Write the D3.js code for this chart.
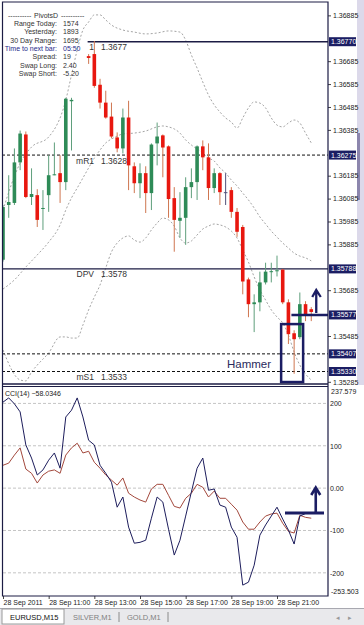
<!DOCTYPE html>
<html>
<head>
<meta charset="utf-8">
<script src="https://cdn.jsdelivr.net/npm/d3@7"></script>
<style>
body { margin: 0; background: #fff; }
text { font-family: "Liberation Sans", Arial, sans-serif; }
</style>
</head>
<body>
<div class="chart"></div>
<script>
const width = 364
const height = 625

// EURUSD M15 candles, bar index 0..54 (13 and 14 are not drawn in the picture)
const opens = [1.35818, 1.36057, 1.36066, 1.36243, 1.36365, 1.36092, 1.36100, 1.36040, 1.36100, 1.36189, 1.36196, 1.36157, 1.36510, null, null,
    1.36707, 1.36716, 1.36582, 1.36504, 1.36443, 1.36352, 1.36304, 1.36439, 1.36226, 1.36152, 1.36196, 1.36109, 1.36326, 1.36361, 1.36313,
    1.36087, 1.35988, 1.36001, 1.36135, 1.36157, 1.36313, 1.36265, 1.36131, 1.36196, 1.36113, 1.36122, 1.36027, 1.35961, 1.35732, 1.35624,
    1.35632, 1.35719, 1.35766, 1.35768, 1.35775, 1.35632, 1.35497, 1.35480, 1.35624, 1.35602]
const highs = [1.36057, 1.36187, 1.36304, 1.36382, 1.36378, 1.36217, 1.36126, 1.36122, 1.36274, 1.36330, 1.36274, 1.36525, 1.36525, null, null,
    1.36716, 1.36773, 1.36608, 1.36556, 1.36504, 1.36374, 1.36478, 1.36512, 1.36243, 1.36239, 1.36226, 1.36326, 1.36417, 1.36365, 1.36317,
    1.36135, 1.36113, 1.36178, 1.36217, 1.36317, 1.36339, 1.36326, 1.36217, 1.36200, 1.36196, 1.36135, 1.36044, 1.35970, 1.35740, 1.35667,
    1.35766, 1.35805, 1.35805, 1.35836, 1.35778, 1.35645, 1.35510, 1.35675, 1.35637, 1.35611]
const lows = [1.35810, 1.36001, 1.36057, 1.36209, 1.36087, 1.36057, 1.35961, 1.35948, 1.36027, 1.36187, 1.36066, 1.36122, 1.36295, null, null,
    1.36673, 1.36569, 1.36478, 1.36434, 1.36348, 1.36287, 1.36282, 1.36122, 1.36109, 1.36087, 1.36022, 1.36035, 1.36230, 1.36178, 1.36001,
    1.35853, 1.35914, 1.35883, 1.36087, 1.36079, 1.36209, 1.36079, 1.36109, 1.36057, 1.36057, 1.36001, 1.35918, 1.35667, 1.35567, 1.35502,
    1.35593, 1.35710, 1.35719, 1.35745, 1.35624, 1.35450, 1.35320, 1.35471, 1.35550, 1.35550]
const closes = [1.36048, 1.36070, 1.36243, 1.36369, 1.36092, 1.36105, 1.35992, 1.36044, 1.36187, 1.36191, 1.36157, 1.36521, 1.36516, null, null,
    1.36699, 1.36577, 1.36504, 1.36439, 1.36356, 1.36304, 1.36439, 1.36230, 1.36152, 1.36196, 1.36109, 1.36321, 1.36356, 1.36308, 1.36083,
    1.35992, 1.36001, 1.36135, 1.36157, 1.36313, 1.36265, 1.36131, 1.36196, 1.36113, 1.36113, 1.36027, 1.35940, 1.35723, 1.35624, 1.35632,
    1.35719, 1.35766, 1.35768, 1.35772, 1.35632, 1.35493, 1.35471, 1.35624, 1.35580, 1.35590]

// bands [bar index, price]
const upperBand = [[0, 1.36035], [3, 1.36240], [5, 1.36310], [8, 1.36354], [11, 1.36515], [12, 1.36625], [13, 1.36734], [14, 1.36821],
    [15, 1.36856], [16, 1.36887], [17, 1.36887], [18, 1.36865], [19, 1.36843], [21, 1.36821], [23, 1.36812], [25, 1.36804], [27, 1.36808],
    [29, 1.36817], [31, 1.36812], [32, 1.36777], [33, 1.36712], [34, 1.36655], [35, 1.36594], [36, 1.36537], [37, 1.36494], [38, 1.36463],
    [39, 1.36437], [40, 1.36419], [41, 1.36393], [42, 1.36437], [43, 1.36481], [44, 1.36507], [45, 1.36502], [46, 1.36481], [47, 1.36437],
    [48, 1.36406], [49, 1.36398], [50, 1.36415], [51, 1.36428], [52, 1.36415], [53, 1.36371], [54, 1.36328]]
const middleBand = [[0, 1.35690], [2, 1.35730], [4, 1.35786], [6, 1.35839], [8, 1.35895], [10, 1.35970], [11, 1.36035], [12, 1.36088],
    [13, 1.36131], [14, 1.36175], [15, 1.36219], [16, 1.36262], [17, 1.36297], [18, 1.36328], [19, 1.36345], [20, 1.36358], [21, 1.36367],
    [23, 1.36371], [25, 1.36380], [27, 1.36398], [28, 1.36402], [29, 1.36398], [30, 1.36389], [31, 1.36371], [32, 1.36341], [33, 1.36319],
    [35, 1.36284], [36, 1.36262], [37, 1.36249], [38, 1.36219], [39, 1.36197], [40, 1.36166], [41, 1.36140], [42, 1.36109], [43, 1.36079],
    [44, 1.36044], [45, 1.36005], [46, 1.35974], [47, 1.35943], [48, 1.35917], [49, 1.35891], [50, 1.35869], [51, 1.35847], [52, 1.35834],
    [53, 1.35826], [54, 1.35813]]
const lowerBand = [[0, 1.35424], [3, 1.35293], [4, 1.35289], [5, 1.35328], [6, 1.35358], [8, 1.35411], [10, 1.35481], [11, 1.35481],
    [12, 1.35476], [13, 1.35476], [14, 1.35533], [15, 1.35599], [16, 1.35655], [17, 1.35708], [18, 1.35782], [19, 1.35852], [20, 1.35891],
    [21, 1.35913], [22, 1.35922], [23, 1.35904], [24, 1.35895], [25, 1.35913], [26, 1.35948], [27, 1.35978], [28, 1.36000], [29, 1.35992],
    [30, 1.35965], [31, 1.35913], [32, 1.35891], [33, 1.35900], [34, 1.35926], [35, 1.35952], [36, 1.35965], [37, 1.35974], [38, 1.35970],
    [39, 1.35961], [40, 1.35943], [41, 1.35913], [42, 1.35861], [43, 1.35808], [44, 1.35743], [45, 1.35686], [46, 1.35642], [47, 1.35599],
    [48, 1.35568], [49, 1.35542], [50, 1.35489], [51, 1.35415], [52, 1.35358], [53, 1.35319], [54, 1.35293]]

// CCI(14) and its signal
const cciMain = [203, 213, 199, 180, 102, 71, 31, 43, 66, 83, 47, 168, 184, 213, 168, 113, 102, 54, 35, 14, -45, -21, -92, -130, -128,
    -123, -71, -21, -33, -97, -158, -123, -66, -9, 47, 71, -5, -2, -40, -45, -92, -116, -229, -222, -182, -111, -87, -66, -45, -73,
    -99, -132, -66, -60, -58.0346]
const cciSignal = [54, 59, 78, 95, 45, 35, 12, 31, 40, 43, 35, 78, 95, 106, 83, 87, 61, 47, 31, 19, 7, 24, -12, -21, -28, -33, -2, 9,
    9, -17, -43, -47, -24, -12, 9, 2, -21, -7, -24, -24, -38, -52, -80, -97, -97, -80, -66, -61, -59, -83, -102, -106, -64, -69, -71]

// pivot levels
const levelNames = ["1", "mR1", "DPV", "", "mS1"]
const levelPrices = [1.36770, 1.36275, 1.35778, 1.35407, 1.35330]
const levelTexts = ["1.3677", "1.3628", "1.3578", "", "1.3533"]
const levelStart = [15, 0, 0, 0, 0]
const levelSolid = [true, false, true, false, false]

// price labels left visible by the tags
const priceTicks = [1.36885, 1.36685, 1.36585, 1.36485, 1.36385, 1.36185, 1.36085, 1.35985, 1.35885,
    1.35685, 1.35485, 1.35285]
const tagPrices = [1.36770, 1.36275, 1.35778, 1.35577, 1.35407, 1.35330]
const tagTexts = ["1.36770", "1.36275", "1.35788", "1.35577", "1.35407", "1.35330"]

const cciTicks = [200, 100, 0, -100, -200]
const cciRange = [-253.503, 237.579]

const timeIdx = [0, 8, 16, 24, 32, 40, 48]
const timeLabels = ["28 Sep 2011", "28 Sep 11:00", "28 Sep 13:00", "28 Sep 15:00", "28 Sep 17:00", "28 Sep 19:00", "28 Sep 21:00"]

const infoLabels = ["Range Today:", "Yesterday:", "30 Day Range:", "Time to next bar:", "Spread:", "Swap Long:", "Swap Short:"]
const infoValues = ["1574", "1893", "1695", "05:50", "19", "2.40", "-5.20"]

const tabNames = ["EURUSD,M15", "SILVER,M1", "GOLD,M1"]

const navy = "#1b1d63"
const frame = "#1c1c44"
const bull = "#2e8b57"
const bear = "#e8170f"

const left = 3, right = 328
const mainTop = 2, mainBottom = 384
const cciTop = 387, cciBottom = 596

const x = d3.scaleLinear().domain([0, 48]).range([3, 277])
const y = d3.scaleLinear().domain([1.35330, 1.36770]).range([371.5, 41.7])
const yc = d3.scaleLinear().domain(cciRange).range([595.5, 387.5])

const svg = d3.select(".chart")
    .append("svg")
    .attr("width", width)
    .attr("height", height)

const defs = svg.append("defs")
defs.append("clipPath").attr("id", "clip-main")
    .append("rect").attr("x", left).attr("y", mainTop).attr("width", right - left).attr("height", mainBottom - mainTop)
defs.append("clipPath").attr("id", "clip-cci")
    .append("rect").attr("x", left).attr("y", cciTop).attr("width", right - left).attr("height", cciBottom - cciTop)

// right strip of the window
svg.append("rect").attr("x", 357).attr("y", 0).attr("width", 7).attr("height", mainBottom + 1).attr("fill", "#dcd9ea")
svg.append("rect").attr("x", 357).attr("y", 133).attr("width", 3).attr("height", 67).attr("fill", "#8c86ad")

const main = svg.append("g").attr("clip-path", "url(#clip-main)")

// bands
const bandLine = d3.line()
    .x(d => x(d[0]))
    .y(d => y(d[1]))
    .curve(d3.curveMonotoneX)

main.selectAll(".band")
    .data([upperBand, middleBand, lowerBand])
    .enter().append("path")
        .attr("d", bandLine)
        .attr("fill", "none")
        .attr("stroke", "#9a9a9a")
        .attr("stroke-width", 0.9)
        .attr("stroke-dasharray", "2,2")

// pivot lines
levelPrices.forEach((p, i) => {
    main.append("line")
        .attr("x1", x(levelStart[i]) - 1).attr("x2", right)
        .attr("y1", y(p)).attr("y2", y(p))
        .attr("stroke", levelSolid[i] ? frame : "#111")
        .attr("stroke-width", levelSolid[i] ? 1.4 : 1)
        .attr("stroke-dasharray", levelSolid[i] ? null : "3,2")
    main.append("text")
        .attr("x", 94).attr("y", y(p) + 8.5)
        .attr("text-anchor", "end")
        .attr("font-size", 8.5).attr("fill", "#333")
        .text(levelNames[i])
    main.append("text")
        .attr("x", 101).attr("y", y(p) + 8.5)
        .attr("font-size", 8.5).attr("fill", "#333")
        .text(levelTexts[i])
})

// candles
const bars = opens.map((o, i) => ({ i: i, o: o, h: highs[i], l: lows[i], c: closes[i] }))
    .filter(d => d.o !== null)

const candleColor = d => d.c > d.o ? bull : (d.c < d.o ? bear : "#50507a")
const wickColor = d => d.c > d.o ? "#5f9f7c" : (d.c < d.o ? "#cf7650" : "#50507a")

main.selectAll(".wick")
    .data(bars)
    .enter().append("line")
        .attr("x1", d => x(d.i)).attr("x2", d => x(d.i))
        .attr("y1", d => y(d.h)).attr("y2", d => y(d.l))
        .attr("stroke", wickColor)
        .attr("stroke-width", 1)

main.selectAll(".body")
    .data(bars)
    .enter().append("rect")
        .attr("x", d => x(d.i) - 1.8)
        .attr("width", 3.6)
        .attr("y", d => Math.min(y(d.o), y(d.c)))
        .attr("height", d => Math.max(1, Math.abs(y(d.o) - y(d.c))))
        .attr("fill", candleColor)

// hammer annotation
const hammerBar = 51
main.append("rect")
    .attr("x", x(hammerBar) - 13).attr("y", y(1.35537))
    .attr("width", 22).attr("height", y(1.35284) - y(1.35537))
    .attr("fill", "none").attr("stroke", navy).attr("stroke-width", 2.5)
main.append("text")
    .attr("x", 227).attr("y", 368)
    .attr("font-size", 11.5).attr("fill", "#2a2a5c")
    .text("Hammer")

// resistance mark with arrow
main.append("line")
    .attr("x1", x(50) + 3).attr("x2", right)
    .attr("y1", y(1.35577)).attr("y2", y(1.35577))
    .attr("stroke", navy).attr("stroke-width", 2.6)
main.append("path")
    .attr("d", `M${x(54) + 5},${y(1.35577) - 2}V290M${x(54) + 1},297L${x(54) + 5},290L${x(54) + 9.5},297`)
    .attr("fill", "none").attr("stroke", navy).attr("stroke-width", 2.3)

// info block
const info = svg.append("g").attr("font-size", 7)
info.append("text").attr("x", 8).attr("y", 17.5).attr("fill", "#333").text("----------")
info.append("text").attr("x", 34).attr("y", 17.5).attr("fill", "#333").text("PivotsD")
info.append("text").attr("x", 61).attr("y", 17.5).attr("fill", "#333").text("----------")
infoLabels.forEach((t, i) => {
    const c = i === 3 ? "#1e2a8a" : "#333"
    info.append("text").attr("x", 57).attr("y", 26 + i * 8.3).attr("text-anchor", "end").attr("fill", c).text(t)
    info.append("text").attr("x", 63).attr("y", 26 + i * 8.3).attr("fill", c).text(infoValues[i])
})

// CCI panel
const cci = svg.append("g")
cci.selectAll(".grid")
    .data(cciTicks)
    .enter().append("line")
        .attr("x1", left).attr("x2", right)
        .attr("y1", d => yc(d)).attr("y2", d => yc(d))
        .attr("stroke", "#c4c4c4").attr("stroke-dasharray", "3,2")

const cciLine = d3.line()
    .x((d, i) => x(i))
    .y(d => yc(d))

const cciPlot = cci.append("g").attr("clip-path", "url(#clip-cci)")
cciPlot.append("path").attr("d", cciLine(cciSignal))
    .attr("fill", "none").attr("stroke", "#a3483c").attr("stroke-width", 1)
cciPlot.append("path").attr("d", cciLine(cciMain))
    .attr("fill", "none").attr("stroke", "#1d1d5c").attr("stroke-width", 1)

cci.append("text").attr("x", 5).attr("y", 396).attr("font-size", 7).attr("fill", "#222")
    .text("CCI(14) " + d3.format(".4f")(cciMain[cciMain.length - 1]))

cci.append("line").attr("x1", 285).attr("x2", 324).attr("y1", 513).attr("y2", 513)
    .attr("stroke", navy).attr("stroke-width", 3)
cci.append("path")
    .attr("d", `M${x(54) + 4.5},513V488M${x(54)},495L${x(54) + 4.5},487.5L${x(54) + 9},495`)
    .attr("fill", "none").attr("stroke", navy).attr("stroke-width", 2.6)

// price axis
const axisR = svg.append("g")
    .attr("transform", `translate(${right}, 0)`)
    .call(d3.axisRight(y).tickValues(priceTicks).tickSize(3).tickPadding(2).tickFormat(d3.format(".5f")))
axisR.select(".domain").remove()
axisR.selectAll("text").attr("font-size", 7).attr("fill", "#222").style("font-family", "Liberation Sans, Arial")
axisR.selectAll("line").attr("stroke", "#444")

const tags = svg.append("g")
tagPrices.forEach((p, i) => {
    tags.append("rect").attr("x", 329).attr("y", y(p) - 4.5).attr("width", 27).attr("height", 9).attr("fill", navy)
    tags.append("text").attr("x", 331).attr("y", y(p) + 2.5).attr("font-size", 7).attr("fill", "#fff").text(tagTexts[i])
})

// CCI axis
const axisC = svg.append("g")
    .attr("transform", `translate(${right}, 0)`)
    .call(d3.axisRight(yc).tickValues(cciTicks).tickSize(0).tickPadding(2).tickFormat(d => d === 0 ? "0.00" : d))
axisC.select(".domain").remove()
axisC.selectAll("text").attr("font-size", 7).attr("fill", "#222").style("font-family", "Liberation Sans, Arial")
svg.append("text").attr("x", 331).attr("y", 394).attr("font-size", 7).attr("fill", "#222").text(cciRange[1])
svg.append("text").attr("x", 331).attr("y", 594).attr("font-size", 7).attr("fill", "#222").text(cciRange[0])

// time axis
const axisB = svg.append("g")
    .attr("transform", `translate(0, ${cciBottom})`)
    .call(d3.axisBottom(x).tickValues(timeIdx).tickSize(3).tickPadding(1).tickFormat((d, i) => timeLabels[i]))
axisB.select(".domain").remove()
axisB.selectAll("text").attr("text-anchor", "start").attr("font-size", 7).attr("fill", "#222")
    .style("font-family", "Liberation Sans, Arial")
axisB.selectAll("line").attr("stroke", "#444")

// frames
const frames = svg.append("g").attr("stroke", frame).attr("fill", "none")
frames.append("path").attr("d", `M${left - 0.5},${mainTop}H${right}V${cciBottom}H${left - 0.5}Z`).attr("stroke-width", 1.2)
frames.append("line").attr("x1", left).attr("x2", right).attr("y1", mainBottom).attr("y2", mainBottom).attr("stroke-width", 1.5)
frames.append("line").attr("x1", left).attr("x2", right).attr("y1", cciTop - 0.5).attr("y2", cciTop - 0.5).attr("stroke-width", 1)

// tab bar
const tabs = svg.append("g")
tabs.append("rect").attr("x", 0).attr("y", 608).attr("width", width).attr("height", 17).attr("fill", "#e9e9ec")
tabs.append("line").attr("x1", 0).attr("x2", width).attr("y1", 608.5).attr("y2", 608.5).attr("stroke", "#a8a8b0")
tabs.append("rect").attr("x", 2).attr("y", 609).attr("width", 62).attr("height", 15).attr("fill", "#fff").attr("stroke", "#9a9a9a")
const tabX = [10, 73, 127]
tabNames.forEach((t, i) => {
    tabs.append("text").attr("x", tabX[i]).attr("y", 620).attr("font-size", 7.5)
        .attr("fill", i === 0 ? "#111" : "#808080").text(t)
})
tabs.selectAll(".sep").data([119, 168]).enter().append("line")
    .attr("x1", d => d).attr("x2", d => d).attr("y1", 612).attr("y2", 622).attr("stroke", "#8a8a8a")
tabs.append("text").attr("x", 336).attr("y", 620).attr("font-size", 7).attr("fill", "#999").text("◂")
tabs.append("text").attr("x", 348).attr("y", 620).attr("font-size", 7).attr("fill", "#999").text("▸")
</script>
</body>
</html>
